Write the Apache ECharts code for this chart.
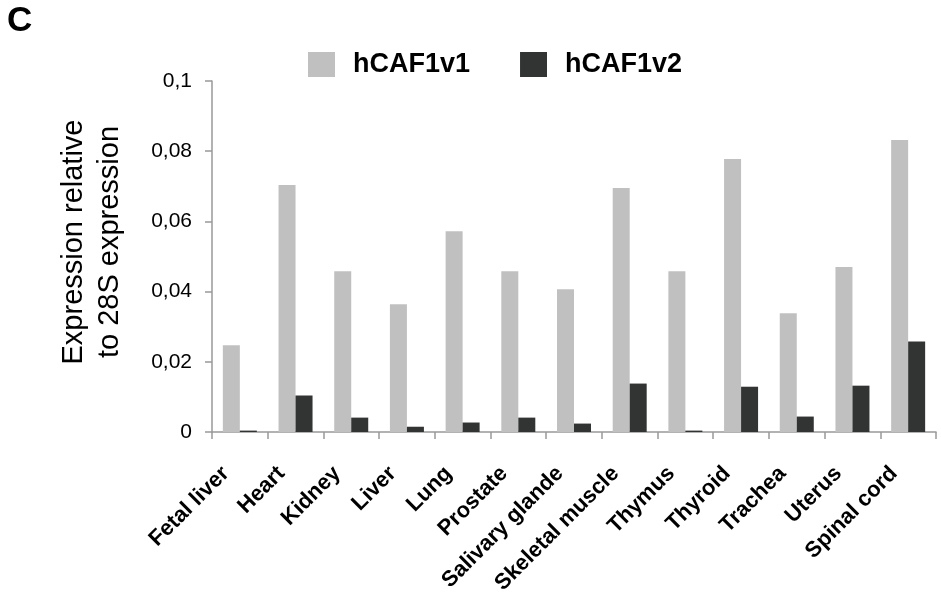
<!DOCTYPE html>
<html>
<head>
<meta charset="utf-8">
<script src="https://cdn.jsdelivr.net/npm/echarts@6/dist/echarts.min.js"></script>
<style>
  html, body { margin: 0; padding: 0; background: #fff; }
  #chart { width: 941px; height: 600px; }
</style>
</head>
<body>
<div id="chart"></div>
<script>
// tissues on the x axis
const tissues = ["Fetal liver", "Heart", "Kidney", "Liver", "Lung", "Prostate",
  "Salivary glande", "Skeletal muscle", "Thymus", "Thyroid", "Trachea", "Uterus", "Spinal cord"];
// expression relative to 28S
const hcaf1v1 = [0.0247, 0.0704, 0.0458, 0.0364, 0.0572, 0.0458, 0.0407,
  0.0695, 0.0458, 0.0778, 0.0338, 0.0470, 0.0832];
const hcaf1v2 = [0.0004, 0.0104, 0.0041, 0.0015, 0.0027, 0.0041, 0.0024,
  0.0138, 0.0004, 0.0129, 0.0044, 0.0132, 0.0258];
const yTicks = { min: 0, max: 0.1, interval: 0.02 };

const FONT = "'Liberation Sans', Arial, sans-serif";
const myChart = echarts.init(document.getElementById("chart"));

const option = {
  animation: false,
  backgroundColor: "#fff",
  grid: { left: 212, right: 5, top: 81, bottom: 168 },
  legend: {
    left: 308,
    top: 51,
    padding: 0,
    icon: "rect",
    itemWidth: 27,
    itemHeight: 25,
    itemGap: 50,
    textStyle: {
      fontFamily: FONT,
      fontWeight: "bold",
      fontSize: 27,
      color: "#000",
      padding: [0, 0, 0, 13],
    },
    data: ["hCAF1v1", "hCAF1v2"],
  },
  graphic: [
    {
      type: "text",
      left: 7,
      top: 4,
      style: { text: "C", font: "bold 35px " + FONT, fill: "#000" },
    },
    {
      type: "text",
      x: 92,
      y: 242,
      rotation: Math.PI / 2,
      style: {
        text: "Expression relative\nto 28S expression",
        font: "29px " + FONT,
        fill: "#000",
        align: "center",
        verticalAlign: "middle",
        lineHeight: 36,
      },
    },
  ],
  xAxis: {
    type: "category",
    data: tissues,
    axisLine: { lineStyle: { color: "#999", width: 1.5 } },
    axisTick: { show: true, length: 7, lineStyle: { color: "#999", width: 1.5 } },
    axisLabel: {
      interval: 0,
      rotate: 45,
      margin: 24,
      padding: [0, 20, 0, 0],
      fontFamily: FONT,
      fontWeight: "bold",
      fontSize: 22,
      color: "#000",
    },
  },
  yAxis: {
    type: "value",
    min: yTicks.min,
    max: yTicks.max,
    interval: yTicks.interval,
    splitLine: { show: false },
    axisLine: { show: true, lineStyle: { color: "#999", width: 1.5 } },
    axisTick: { show: true, length: 7, lineStyle: { color: "#999", width: 1.5 } },
    axisLabel: {
      margin: 20,
      fontFamily: FONT,
      fontSize: 21,
      color: "#000",
      formatter: (v) => String(+v.toFixed(2)).replace(".", ","),
    },
  },
  series: [
    {
      name: "hCAF1v1",
      type: "bar",
      data: hcaf1v1,
      barWidth: 17,
      barGap: "0%",
      itemStyle: { color: "#c0c0c0" },
    },
    {
      name: "hCAF1v2",
      type: "bar",
      data: hcaf1v2,
      barWidth: 17,
      barGap: "0%",
      itemStyle: { color: "#323433" },
    },
  ],
};
myChart.setOption(option);
</script>
</body>
</html>
